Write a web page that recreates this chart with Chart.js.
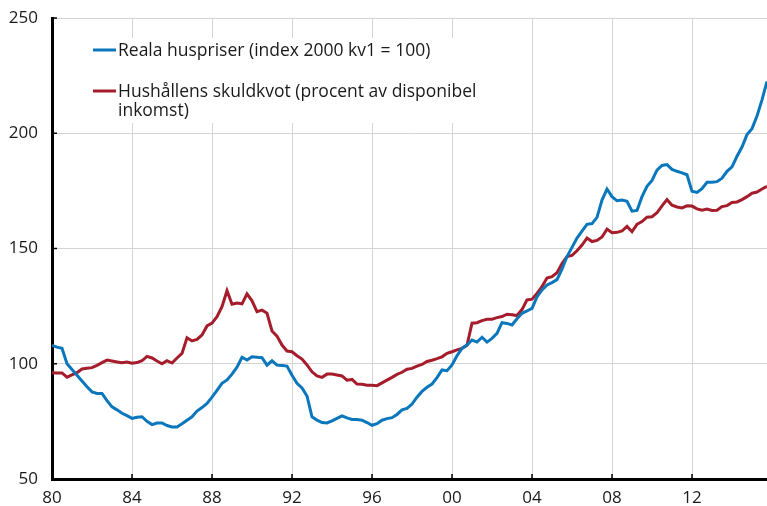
<!DOCTYPE html>
<html>
<head>
<meta charset="utf-8">
<script src="https://cdn.jsdelivr.net/npm/chart.js@4.4.1/dist/chart.umd.min.js"></script>
<style>
  html, body { margin: 0; padding: 0; background: #fff; }
  #chart { display: block; }
</style>
</head>
<body>
<canvas id="chart" width="767" height="506"></canvas>
<script>
// Quarterly series, 1980 kv1 .. 2015 kv4
const startYear = 1980;

const husPriser = [
  108, 107.2, 106.7, 100,    // 1980
  97.5, 95, 92.5, 90,        // 1981
  87.8, 87.1, 87.1, 84,      // 1982
  81.3, 80, 78.5, 77.5,      // 1983
  76.3, 76.8, 77, 75,        // 1984
  73.6, 74.3, 74.3, 73.2,    // 1985
  72.6, 72.6, 74, 75.5,      // 1986
  77, 79.5, 81, 82.8,        // 1987
  85.5, 88.5, 91.5, 93,      // 1988
  95.5, 98.5, 102.8, 101.6,  // 1989
  103, 102.8, 102.6, 99.4,   // 1990
  101.3, 99.4, 99.2, 99,     // 1991
  95, 91.5, 89.5, 86,        // 1992
  77, 75.5, 74.5, 74.3,      // 1993
  75.2, 76.3, 77.4, 76.5,    // 1994
  75.8, 75.8, 75.5, 74.5,    // 1995
  73.3, 74, 75.5, 76.2,      // 1996
  76.6, 78, 80, 80.6,        // 1997
  82.5, 85.5, 88, 89.8,      // 1998
  91.2, 94, 97.3, 97,        // 1999
  99.5, 103.5, 106.7, 108.1, // 2000
  110.3, 109.4, 111.5, 109.4,// 2001
  111, 113.2, 117.8, 117.5,  // 2002
  116.8, 119.5, 121.9, 122.9,// 2003
  124, 129, 132, 134.2,      // 2004
  135.2, 136.5, 141, 146.5,  // 2005
  150.5, 154.5, 157.5, 160.5,// 2006
  160.8, 163.5, 171, 175.8,  // 2007
  172.5, 170.7, 171, 170.5,  // 2008
  166.2, 166.5, 172.5, 177,  // 2009
  179.5, 184, 186, 186.4,    // 2010
  184.3, 183.5, 182.8, 182,  // 2011
  174.8, 174.3, 176, 178.7,  // 2012
  178.7, 179, 180.5, 183.5,  // 2013
  185.4, 190, 194, 199.4,    // 2014
  202, 207.5, 214.5, 222.5   // 2015
];

const skuldkvot = [
  96.1, 96, 96, 94.2,        // 1980
  95.2, 96.1, 97.7, 98,      // 1981
  98.3, 99.3, 100.5, 101.6,  // 1982
  101.2, 100.8, 100.4, 100.7,// 1983
  100.2, 100.5, 101.3, 103.2,// 1984
  102.5, 101.2, 100, 101.3,  // 1985
  100.3, 102.5, 104.5, 111.3,// 1986
  109.9, 110.6, 112.5, 116.4,// 1987
  117.6, 120.4, 124.8, 131.7,// 1988
  125.8, 126.3, 126, 130.3,  // 1989
  127.3, 122.6, 123.3, 121.9,// 1990
  114.2, 112, 108.1, 105.5,  // 1991
  105.2, 103.5, 102, 99.5,   // 1992
  96.5, 94.7, 94.1, 95.5,    // 1993
  95.5, 95.1, 94.7, 92.9,    // 1994
  93.2, 91.2, 91.1, 90.7,    // 1995
  90.7, 90.5, 91.7, 92.9,    // 1996
  94.1, 95.4, 96.3, 97.6,    // 1997
  98, 99, 99.7, 101,         // 1998
  101.5, 102.2, 103, 104.5,  // 1999
  105.2, 106, 106.7, 108,    // 2000
  117.6, 117.8, 118.7, 119.3,// 2001
  119.3, 120, 120.5, 121.5,  // 2002
  121.3, 120.9, 123.5, 127.7,// 2003
  128, 130.5, 133.5, 137.2,  // 2004
  137.8, 139.5, 143.5, 146.5,// 2005
  147, 149, 151.5, 154.5,    // 2006
  153, 153.5, 155, 158.4,    // 2007
  156.8, 157, 157.6, 159.6,  // 2008
  157.3, 160.5, 161.7, 163.6,// 2009
  163.8, 165.5, 168.5, 171.2,// 2010
  168.8, 168, 167.6, 168.5,  // 2011
  168.4, 167.2, 166.6, 167.1,// 2012
  166.5, 166.6, 168.2, 168.6,// 2013
  170, 170.2, 171.2, 172.5,  // 2014
  174, 174.5, 175.8, 177     // 2015
];

const xTickYears = [1980, 1984, 1988, 1992, 1996, 2000, 2004, 2008, 2012];
const xTickLabels = ["80", "84", "88", "92", "96", "00", "04", "08", "12"];
const yTicks = [50, 100, 150, 200, 250];

const seriesNames = [
  ["Reala huspriser (index 2000 kv1 = 100)"],
  ["Hushållens skuldkvot (procent av disponibel", "inkomst)"]
];

const BLUE = "#0a77bd";
const RED = "#a51d2b";
const FONT = "'Open Sans', 'Noto Sans', sans-serif";

const quarters = husPriser.map((_, i) => startYear + i / 4);
const toPoints = (vals) => vals.map((v, i) => ({ x: quarters[i], y: v }));

// legend box + inward tick marks
const decorations = {
  id: "decorations",
  afterDraw(chart) {
    const c = chart.ctx;
    const xs = chart.scales.x, ys = chart.scales.y;
    const area = chart.chartArea;
    c.save();
    c.strokeStyle = "#000";
    c.lineWidth = 1.5;
    xTickYears.forEach((yr) => {
      const px = xs.getPixelForValue(yr);
      c.beginPath(); c.moveTo(px, area.bottom); c.lineTo(px, area.bottom - 5); c.stroke();
    });
    yTicks.forEach((v) => {
      const py = ys.getPixelForValue(v);
      c.beginPath(); c.moveTo(area.left, py); c.lineTo(area.left + 5, py); c.stroke();
    });

    c.fillStyle = "#fff";
    c.fillRect(86, 38, 372, 85);
    c.font = "17.5px " + FONT;
    c.textBaseline = "alphabetic";
    c.fillStyle = "#1a1a1a";
    const entries = [
      { color: BLUE, lineY: 50, lines: seriesNames[0], base: 56 },
      { color: RED, lineY: 91, lines: seriesNames[1], base: 97 }
    ];
    entries.forEach((e) => {
      c.strokeStyle = e.color;
      c.lineWidth = 3;
      c.beginPath(); c.moveTo(93, e.lineY); c.lineTo(116, e.lineY); c.stroke();
      e.lines.forEach((t, k) => c.fillText(t, 118, e.base + k * 18.5));
    });
    c.restore();
  }
};

new Chart(document.getElementById("chart"), {
  type: "line",
  data: {
    datasets: [
      { label: seriesNames[0][0], data: toPoints(husPriser), borderColor: BLUE, borderWidth: 3, pointRadius: 0, tension: 0 },
      { label: seriesNames[1].join(" "), data: toPoints(skuldkvot), borderColor: RED, borderWidth: 3, pointRadius: 0, tension: 0 }
    ]
  },
  options: {
    responsive: false,
    animation: false,
    devicePixelRatio: 1,
    layout: { padding: { top: 18, right: 0, left: 0, bottom: 0 } },
    plugins: { legend: { display: false }, tooltip: { enabled: false } },
    scales: {
      x: {
        type: "linear",
        min: 1980,
        max: 2015.75,
        afterBuildTicks: (scale) => { scale.ticks = xTickYears.map((v) => ({ value: v })); },
        afterFit: (scale) => { scale.height = 27; },
        grid: { color: "#d4d4d4", lineWidth: 1, drawTicks: false },
        border: { color: "#000", width: 3 },
        ticks: {
          padding: 9,
          color: "#1a1a1a",
          font: { family: FONT, size: 17 },
          maxRotation: 0,
          callback: (v, i) => xTickLabels[i]
        }
      },
      y: {
        min: 50,
        max: 250,
        afterBuildTicks: (scale) => { scale.ticks = yTicks.map((v) => ({ value: v })); },
        afterFit: (scale) => { scale.width = 52; scale.paddingTop = 0; scale.paddingBottom = 0; },
        grid: { color: "#d4d4d4", lineWidth: 1, drawTicks: false },
        border: { color: "#000", width: 3 },
        ticks: {
          padding: 14,
          color: "#1a1a1a",
          font: { family: FONT, size: 17 }
        }
      }
    }
  },
  plugins: [decorations]
});
</script>
</body>
</html>
